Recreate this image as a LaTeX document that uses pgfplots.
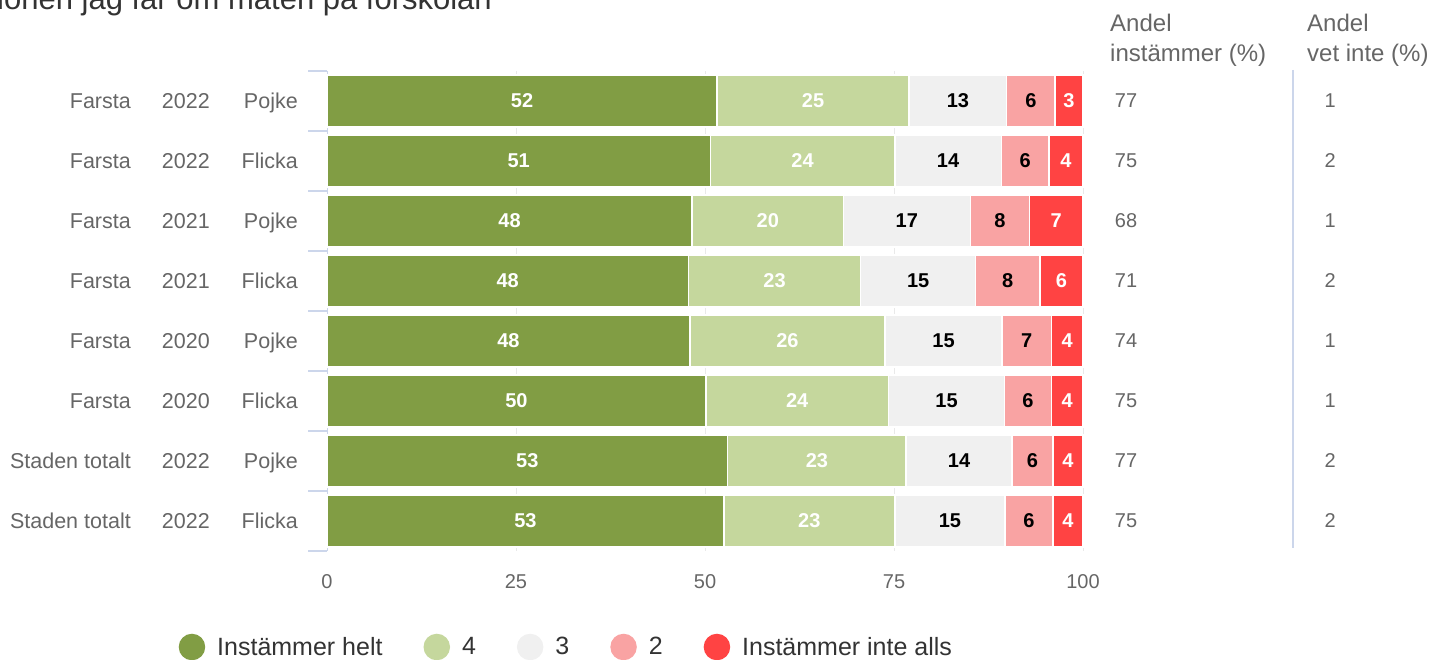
\documentclass[border=0pt]{standalone}
\usepackage{fontspec}
\setmainfont{Liberation Sans}
\usepackage{pgfplots}
\usepackage{pgfplotstable}
\pgfplotsset{compat=1.18}
\definecolor{cA}{HTML}{819D44}
\definecolor{cB}{HTML}{C5D79D}
\definecolor{cC}{HTML}{F0F0F0}
\definecolor{cD}{HTML}{F9A3A3}
\definecolor{cE}{HTML}{FF4343}
\definecolor{axblue}{HTML}{CCD6EB}
\definecolor{gridc}{HTML}{E9E9E9}
\definecolor{txt}{HTML}{666666}
\definecolor{legtxt}{HTML}{333333}
\newcommand\lab{\fontsize{21.5bp}{26bp}\selectfont}
\newcommand\tlab{\fontsize{20bp}{24bp}\selectfont}
\newcommand\hlab{\fontsize{24bp}{28bp}\selectfont}
\newcommand\llab{\fontsize{25bp}{30bp}\selectfont}
\newcommand\blab{\fontsize{20bp}{24bp}\selectfont\bfseries}
\newcommand\rl[3]{#1\makebox[79bp][r]{#2}\makebox[88bp][r]{#3}}

% segment values (bar lengths) and the printed (rounded) labels
\pgfplotstableread{
y a    b    c    d   e   la lb lc ld le inst vet
0 51.6 25.4 12.9 6.4 3.7 52 25 13 6  3  77   1
1 50.7 24.4 14.1 6.3 4.5 51 24 14 6  4  75   2
2 48.3 20.0 16.8 7.8 7.1 48 20 17 8  7  68   1
3 47.8 22.8 15.2 8.5 5.7 48 23 15 8  6  71   2
4 48.0 25.8 15.5 6.5 4.2 48 26 15 7  4  74   1
5 50.1 24.2 15.3 6.2 4.2 50 24 15 6  4  75   1
6 53.0 23.6 14.0 5.4 4.0 53 23 14 6  4  77   2
7 52.5 22.6 14.6 6.3 4.0 53 23 15 6  4  75   2
}\data

\pgfplotsset{
  seg/.style={
    fill=#1, draw=white, line width=1.5bp,
    legend image code/.code={\fill[#1] (0bp,0bp) circle (12.5bp);},
  },
  lbl/.style={
    draw=none, mark=none, nodes near coords, point meta=explicit symbolic,
    nodes near coords align={anchor=center},
    every node near coord/.append style={anchor=center, inner sep=0pt, font=\blab, text=#1},
  },
}

\begin{document}
\begin{tikzpicture}
\begin{axis}[
  at={(327bp,109bp)}, anchor=south west,
  scale only axis, width=756bp, height=480bp,
  xbar stacked, bar width=52bp,
  xmin=0, xmax=100, ymin=-0.5, ymax=7.5, y dir=reverse,
  axis lines*=left,
  x axis line style={draw=none},
  y axis line style={axblue, line width=1bp, -},
  xtick={0,25,50,75,100},
  ytick={0,...,7},
  yticklabels={\rl{Farsta}{2022}{Pojke},\rl{Farsta}{2022}{Flicka},\rl{Farsta}{2021}{Pojke},\rl{Farsta}{2021}{Flicka},\rl{Farsta}{2020}{Pojke},\rl{Farsta}{2020}{Flicka},\rl{Staden totalt}{2022}{Pojke},\rl{Staden totalt}{2022}{Flicka}},
  minor ytick={-0.5,0.5,...,7.5},
  major tick length=0pt, minor tick length=19bp,
  tick align=outside,
  every minor tick/.append style={axblue, line width=1.5bp},
  xmajorgrids, major grid style={gridc, line width=1bp},
  /pgf/number format/assume math mode=true,
  xticklabel style={anchor=center, yshift=-31bp, font=\tlab, text=txt},
  yticklabel style={anchor=base east, inner sep=0pt, xshift=-29bp, yshift=-7.7bp, font=\lab, text=txt},
  legend columns=5,
  legend cell align=left,
  legend style={draw=none, fill=none, inner sep=0pt, at={(-0.1964,-0.2)}, anchor=west,
    font=\llab, text=legtxt,
    /tikz/every odd column/.append style={column sep=10bp},
    /tikz/every even column/.append style={column sep=39bp}},
  clip=false,
]
\addplot[seg=cA] table[x=a, y=y] {\data};
\addlegendentry{Instämmer helt}
\addplot[seg=cB] table[x=b, y=y] {\data};
\addlegendentry{4}
\addplot[seg=cC] table[x=c, y=y] {\data};
\addlegendentry{3}
\addplot[seg=cD] table[x=d, y=y] {\data};
\addlegendentry{2}
\addplot[seg=cE] table[x=e, y=y] {\data};
\addlegendentry{Instämmer inte alls}
\end{axis}

\begin{axis}[
  at={(327bp,109bp)}, anchor=south west,
  scale only axis, width=756bp, height=480bp,
  xmin=0, xmax=100, ymin=-0.5, ymax=7.5, y dir=reverse,
  hide axis, clip=false,
]
% labels centred in each segment
\addplot[lbl=white] table[x expr=\thisrow{a}/2, y=y, meta=la] {\data};
\addplot[lbl=white] table[x expr=\thisrow{a}+\thisrow{b}/2, y=y, meta=lb] {\data};
\addplot[lbl=black] table[x expr=\thisrow{a}+\thisrow{b}+\thisrow{c}/2, y=y, meta=lc] {\data};
\addplot[lbl=black] table[x expr=\thisrow{a}+\thisrow{b}+\thisrow{c}+\thisrow{d}/2, y=y, meta=ld] {\data};
\addplot[lbl=white] table[x expr=\thisrow{a}+\thisrow{b}+\thisrow{c}+\thisrow{d}+\thisrow{e}/2, y=y, meta=le] {\data};
% right-hand columns
\addplot[draw=none, mark=none, nodes near coords, point meta=explicit symbolic,
  nodes near coords align={anchor=west},
  every node near coord/.append style={anchor=west, inner sep=0pt, font=\tlab, text=txt}]
  table[x expr=104.2, y=y, meta=inst] {\data};
\addplot[draw=none, mark=none, nodes near coords, point meta=explicit symbolic,
  nodes near coords align={anchor=center},
  every node near coord/.append style={anchor=center, inner sep=0pt, font=\tlab, text=txt}]
  table[x expr=132.7, y=y, meta=vet] {\data};
\draw[axblue, line width=1.5bp] (axis cs:127.8,-0.52) -- (axis cs:127.8,7.45);
\end{axis}

\node[anchor=base west, inner sep=0pt, font=\hlab, text=txt] at (1110bp,628bp) {Andel};
\node[anchor=base west, inner sep=0pt, font=\hlab, text=txt] at (1110bp,598bp) {instämmer (\%)};
\node[anchor=base west, inner sep=0pt, font=\hlab, text=txt] at (1307bp,628bp) {Andel};
\node[anchor=base west, inner sep=0pt, font=\hlab, text=txt] at (1307bp,598bp) {vet inte (\%)};
\node[anchor=base east, inner sep=0pt, font=\fontsize{31bp}{36bp}\selectfont, text=legtxt] at (492bp,650bp) {Informationen jag får om maten på förskolan};

\pgfresetboundingbox
\path[use as bounding box] (0bp,0bp) rectangle (1430bp,660bp);
\end{tikzpicture}
\end{document}
